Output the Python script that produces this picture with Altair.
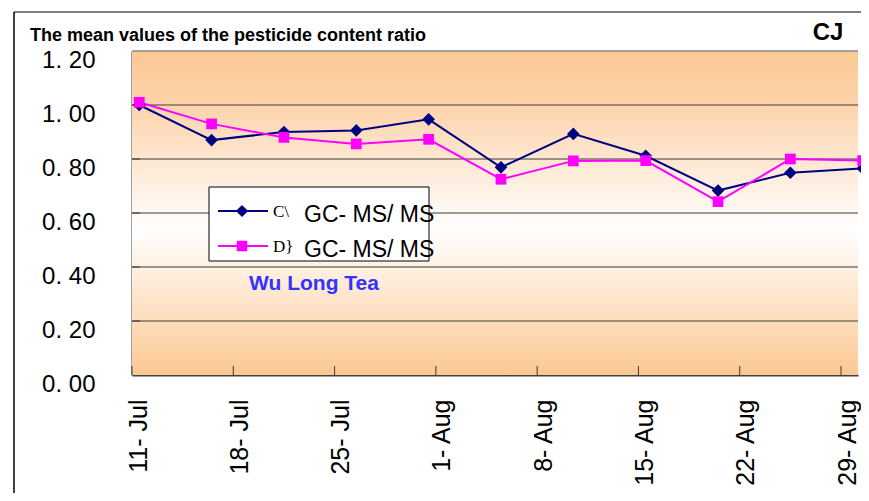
import altair as alt
import pandas as pd

# ---- data ----
dates = ["2008-07-11", "2008-07-16", "2008-07-21", "2008-07-26", "2008-07-31", "2008-08-05",
         "2008-08-10", "2008-08-15", "2008-08-20", "2008-08-25", "2008-08-30"]
series_c = [1.00, 0.87, 0.90, 0.906, 0.947, 0.769, 0.893, 0.812, 0.683, 0.749, 0.765]
series_d = [1.01, 0.93, 0.88, 0.856, 0.873, 0.725, 0.793, 0.794, 0.642, 0.800, 0.794]
series_names = ["C", "D"]
series_colors = ["#000080", "#FF00FF"]
series_shapes = ["diamond", "square"]
tick_dates = ["2008-07-11", "2008-07-18", "2008-07-25", "2008-08-01", "2008-08-08",
              "2008-08-15", "2008-08-22", "2008-08-29"]
y_ticks = [0.0, 0.2, 0.4, 0.6, 0.8, 1.0, 1.2]
legend_prefix = ["C\\", "D}"]
legend_suffix = "GC- MS/ MS"
title_text = "The mean values of the pesticide content ratio"
corner_text = "CJ"
note_text = "Wu Long Tea"

W, H = 726, 324
FONT = "Liberation Sans"

def ms(d):
    return int(pd.Timestamp(d, tz="UTC").value // 10**6)

x_start = ms(tick_dates[0])
x_end = x_start + int(W / 14.47 * 86400000)
tick_ms = [ms(d) for d in tick_dates]

rows = []
for name, vals in zip(series_names, [series_c, series_d]):
    for d, v in zip(dates, vals):
        rows.append({"date": d, "value": v, "series": name})
df = pd.DataFrame(rows)

xscale = alt.Scale(type="utc", domain=[x_start, x_end])
yscale = alt.Scale(domain=[0, 1.2], nice=False)

x_axis = alt.Axis(values=tick_ms, labelExpr="utcFormat(datum.value, '%-d- %b')",
                  labelAngle=270, labelAlign="right", labelBaseline="middle",
                  labelFont=FONT, labelFontSize=25, labelColor="#000000",
                  labelPadding=24, labelOffset=6, ticks=False, grid=False,
                  domainColor="#404040", domainWidth=2, title="", labelFlush=False)
y_axis = alt.Axis(values=y_ticks, labelExpr="replace(format(datum.value, '.2f'), '.', '. ')",
                  labelFont=FONT, labelFontSize=24, labelColor="#000000",
                  labelPadding=37, labelOffset=9, ticks=False, grid=False,
                  domainColor="#404040", domainWidth=2, title="", labelFlush=False)

one = alt.Data(values=[{"k": 1}])

bg = alt.Chart(one).mark_rect(
    fill=alt.Gradient(gradient="linear", x1=0, x2=0, y1=0, y2=1,
                      stops=[alt.GradientStop(offset=0, color="#FCC893"),
                             alt.GradientStop(offset=0.16, color="#FDD3AA"),
                             alt.GradientStop(offset=0.55, color="#FFFFFF"),
                             alt.GradientStop(offset=1, color="#FCC893")])
).encode(x=alt.value(0), x2=alt.value(W), y=alt.value(0), y2=alt.value(H))

grid_df = pd.DataFrame({"v": y_ticks[1:-1]})
grid = alt.Chart(grid_df).mark_rule(color="#3a3a3a", strokeWidth=1).encode(
    y=alt.Y("v:Q", scale=yscale, axis=y_axis), x=alt.value(0), x2=alt.value(W))
topline = alt.Chart(pd.DataFrame({"v": [y_ticks[-1]]})).mark_rule(color="#8a8a8a", strokeWidth=1.5).encode(
    y=alt.Y("v:Q", scale=yscale), x=alt.value(0), x2=alt.value(W))
ystubs = alt.Chart(grid_df).mark_rule(color="#3a3a3a", strokeWidth=1).encode(
    y=alt.Y("v:Q", scale=yscale), x=alt.value(0), x2=alt.value(8))

xt_df = pd.DataFrame({"d": tick_dates})
xstubs = alt.Chart(xt_df).mark_rule(color="#3a3a3a", strokeWidth=1).encode(
    x=alt.X("d:T", scale=xscale, axis=x_axis), y=alt.value(H), y2=alt.value(H - 9))

# legend (drawn by hand to show line + marker samples)
leg_box = alt.Chart(one).mark_rect(fill="#FFFFFF", stroke="#000000", strokeWidth=1).encode(
    x=alt.value(77), x2=alt.value(297), y=alt.value(136), y2=alt.value(210))
leg_layers = [leg_box]
for i, (nm, col, shp, pre) in enumerate(zip(series_names, series_colors, series_shapes, legend_prefix)):
    yy = 160 + 35 * i
    leg_layers.append(alt.Chart(one).mark_rule(color=col, strokeWidth=2).encode(
        x=alt.value(86), x2=alt.value(136), y=alt.value(yy)))
    leg_layers.append(alt.Chart(one).mark_point(shape=shp, filled=True, color=col, opacity=1,
                                                size=150 if shp == "diamond" else 110).encode(
        x=alt.value(110), y=alt.value(yy)))
    leg_layers.append(alt.Chart(one).mark_text(text=pre, font="Liberation Serif", fontSize=17,
                                               align="left", baseline="middle", color="#000000").encode(
        x=alt.value(141), y=alt.value(yy + 1)))
    leg_layers.append(alt.Chart(one).mark_text(text=legend_suffix, font=FONT,
                                               fontSize=23, align="left", baseline="middle", color="#000000").encode(
        x=alt.value(172), y=alt.value(yy + 4)))

color_scale = alt.Scale(domain=series_names, range=series_colors)
shape_scale = alt.Scale(domain=series_names, range=series_shapes)

base = alt.Chart(df).transform_calculate(t="toDate(datum.date) + 43200000")
lines = base.mark_line(strokeWidth=2).encode(
    x=alt.X("t:T", scale=xscale),
    y=alt.Y("value:Q", scale=yscale),
    color=alt.Color("series:N", scale=color_scale, legend=None))
points = base.mark_point(filled=True, opacity=1).encode(
    x=alt.X("t:T", scale=xscale),
    y=alt.Y("value:Q", scale=yscale),
    color=alt.Color("series:N", scale=color_scale, legend=None),
    shape=alt.Shape("series:N", scale=shape_scale, legend=None),
    size=alt.condition("datum.series == 'C'", alt.value(160), alt.value(115)))

title = alt.Chart(one).mark_text(text=title_text, font=FONT, fontSize=18, fontWeight="bold",
                                 align="left", baseline="middle", color="#000000").encode(
    x=alt.value(-102), y=alt.value(-15))
corner = alt.Chart(one).mark_text(text=corner_text, font=FONT, fontSize=24, fontWeight="bold",
                                  align="center", baseline="middle", color="#000000").encode(
    x=alt.value(696), y=alt.value(-18))
note = alt.Chart(one).mark_text(text=note_text, font=FONT, fontSize=21, fontWeight="bold",
                                align="center", baseline="middle", color="#3333FF").encode(
    x=alt.value(182), y=alt.value(233))

frame_left = alt.Chart(one).mark_rule(color="#404040", strokeWidth=2).encode(
    x=alt.value(-118), y=alt.value(-39), y2=alt.value(H + 118))
frame_top = alt.Chart(one).mark_rule(color="#000000", strokeWidth=1.2).encode(
    x=alt.value(-118), x2=alt.value(W + 3), y=alt.value(-39))

chart = alt.layer(
    bg, grid, topline, ystubs, xstubs, *leg_layers, lines, points, title, corner, note,
    frame_left, frame_top
).properties(
    width=W, height=H, autosize="none",
    padding={"left": 124, "top": 43, "right": 3, "bottom": 118},
    background="#FFFFFF"
).configure_view(strokeWidth=0)

chart.save("out.html", embed_options={"renderer": "svg", "actions": False})
